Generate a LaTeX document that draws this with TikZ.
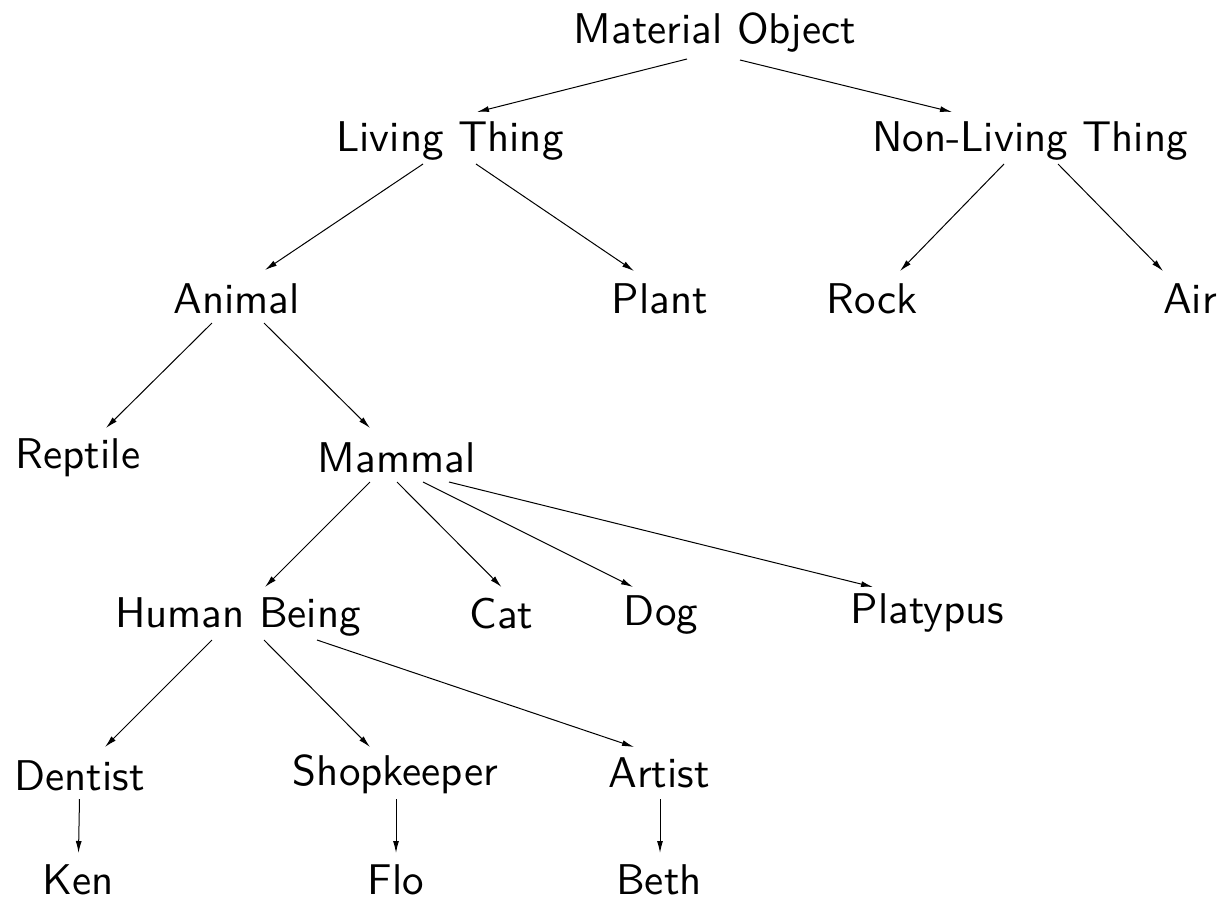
\documentclass[tikz,border=0pt]{standalone}
\usetikzlibrary{arrows.meta,calc}
\begin{document}
\begin{tikzpicture}[x=0.5pt,y=-0.5pt,
  lbl/.style={font=\sffamily, scale=2.15, inner sep=0pt, anchor=base, text=black},
  conn/.style={-{Latex[length=6pt,width=3pt]}, line width=0.5pt, black}]
\useasboundingbox (0,0) rectangle (1220,900);
% nodes (anchor = baseline)
\node[lbl] (mo)  at (715,43)    {Material Object};
\node[lbl] (lt)  at (450,151)   {Living Thing};
\node[lbl] (nlt) at (1030,151)  {Non-Living Thing};
\node[lbl] (an)  at (236.5,313) {Animal};
\node[lbl] (pl)  at (660,313)   {Plant};
\node[lbl] (ro)  at (872,313)   {Rock};
\node[lbl] (air) at (1190,313)  {Air};
\node[lbl] (re)  at (78,468)    {Reptile};
\node[lbl] (ma)  at (396.5,472) {Mammal};
\node[lbl] (hb)  at (238,627)   {Human Being};
\node[lbl] (cat) at (501.5,628) {Cat};
\node[lbl] (dog) at (661,625)   {Dog};
\node[lbl] (pla) at (927.5,623) {Platypus};
\node[lbl] (de)  at (79.5,790)  {Dentist};
\node[lbl] (sh)  at (395.5,785) {Shopkeeper};
\node[lbl] (ar)  at (659,787)   {Artist};
\node[lbl] (ken) at (78.5,894)  {Ken};
\node[lbl] (flo) at (396,894)   {Flo};
\node[lbl] (be)  at (659,894)   {Beth};
% connectors
\draw[conn] ($(mo.base)+(-28,16)$) -- ($(lt.base)+(27,-39)$);
\draw[conn] ($(mo.base)+(25,17)$) -- ($(nlt.base)+(-78,-39)$);
\draw[conn] ($(lt.base)+(-27,13)$) -- ($(an.base)+(28.5,-43)$);
\draw[conn] ($(lt.base)+(26,13)$) -- ($(pl.base)+(-26,-42)$);
\draw[conn] ($(nlt.base)+(-26,13)$) -- ($(ro.base)+(28,-42)$);
\draw[conn] ($(nlt.base)+(28,13)$) -- ($(air.base)+(-27,-42)$);
\draw[conn] ($(an.base)+(-24.5,10)$) -- ($(re.base)+(28,-40)$);
\draw[conn] ($(an.base)+(27.5,10)$) -- ($(ma.base)+(-26.5,-44)$);
\draw[conn] ($(ma.base)+(-26.5,10)$) -- ($(hb.base)+(27,-40)$);
\draw[conn] ($(ma.base)+(0.5,10)$) -- ($(cat.base)+(0,-41)$);
\draw[conn] ($(ma.base)+(26.5,10)$) -- ($(dog.base)+(-28,-38)$);
\draw[conn] ($(ma.base)+(52.5,10)$) -- ($(pla.base)+(-54.5,-36)$);
\draw[conn] ($(hb.base)+(-26,13)$) -- ($(de.base)+(25.5,-43)$);
\draw[conn] ($(hb.base)+(26,13)$) -- ($(sh.base)+(-25.5,-38)$);
\draw[conn] ($(hb.base)+(79,13)$) -- ($(ar.base)+(-25,-40)$);
\draw[conn] ($(de.base)+(0,9)$) -- ($(ken.base)+(0,-41)$);
\draw[conn] ($(sh.base)+(0.5,14)$) -- ($(flo.base)+(0,-41)$);
\draw[conn] ($(ar.base)+(1,12)$) -- ($(be.base)+(1,-41)$);
\end{tikzpicture}
\end{document}
